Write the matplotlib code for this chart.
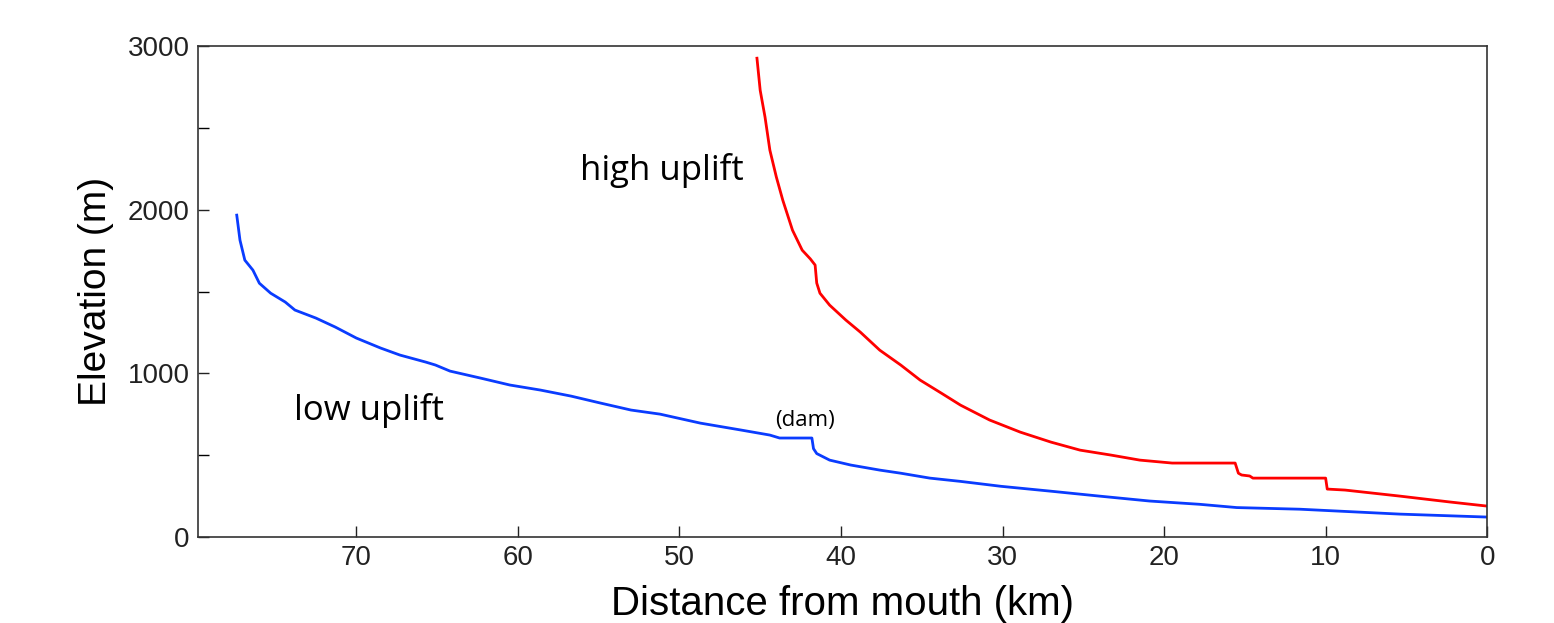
import matplotlib
matplotlib.use('Agg')
import matplotlib.pyplot as plt

# low uplift profile (distance from mouth km, elevation m)
low_km = [77.4, 77.2, 76.9, 76.4, 76.0, 75.3, 74.4, 73.8, 72.5, 71.3, 70.0, 68.5, 67.3,
          65.7, 65.1, 64.2, 62.3, 60.5, 58.6, 56.7, 54.9, 53.0, 51.2, 48.7, 46.2, 44.4,
          43.8, 41.8, 41.7, 41.5, 40.7, 39.4, 37.6, 36.3, 34.5, 32.6, 30.1, 27.0, 24.0,
          20.9, 17.8, 15.5, 11.6, 8.5, 5.4, 0.0]
low_elev = [1967, 1814, 1692, 1631, 1551, 1490, 1436, 1387, 1338, 1283, 1216, 1155, 1112,
            1069, 1051, 1014, 971, 929, 898, 861, 819, 776, 751, 696, 654, 623,
            605, 605, 540, 510, 470, 440, 409, 390, 360, 340, 310, 280, 250,
            220, 200, 180, 170, 155, 140, 122]

# high uplift profile
high_km = [45.2, 45.0, 44.7, 44.4, 44.0, 43.6, 43.0, 42.4, 41.9, 41.6, 41.5, 41.3, 40.7,
           39.7, 38.8, 37.6, 36.3, 35.1, 33.8, 32.6, 30.8, 28.9, 27.0, 25.2, 23.3, 21.5,
           19.5, 15.6, 15.4, 15.2, 14.7, 14.5, 10.0, 9.9, 8.8, 5.4, 2.3, 0.0]
high_elev = [2926, 2730, 2566, 2364, 2200, 2058, 1875, 1753, 1700, 1662, 1552, 1490, 1417,
             1326, 1252, 1142, 1051, 959, 880, 806, 715, 641, 580, 531, 501, 470,
             452, 452, 390, 379, 373, 360, 360, 293, 287, 250, 214, 189]

x_ticks = [70, 60, 50, 40, 30, 20, 10, 0]
y_ticks = [0, 1000, 2000, 3000]
y_minor = [500, 1500, 2500]

fig = plt.figure(figsize=(15.54, 6.23), dpi=100)
ax = fig.add_axes([0.1274, 0.138, 0.8296, 0.788])

ax.plot(low_km, low_elev, color='#0a3cff', lw=2)
ax.plot(high_km, high_elev, color='#ff0000', lw=2)

ax.set_xlim(79.8, 0)
ax.set_ylim(0, 3000)
ax.set_xticks(x_ticks)
ax.set_yticks(y_ticks)
ax.set_yticks(y_minor, minor=True)
ax.tick_params(direction='in', length=8, width=1, labelsize=20, colors='#222222', pad=6)
ax.tick_params(which='minor', direction='in', length=8, width=1)
for lab in ax.get_xticklabels() + ax.get_yticklabels():
    lab.set_fontfamily('Liberation Sans')
for s in ax.spines.values():
    s.set_color('#333333')
    s.set_linewidth(1.2)

ax.set_xlabel('Distance from mouth (km)', fontsize=29, family='Liberation Sans', labelpad=10)
ax.set_ylabel('Elevation (m)', fontsize=28, family='Liberation Sans', labelpad=10)

ax.text(51.1, 2240, 'high uplift', fontsize=25, family='Open Sans', ha='center', va='center')
ax.text(69.2, 776, 'low uplift', fontsize=25, family='Open Sans', ha='center', va='center')
ax.text(42.2, 715, '(dam)', fontsize=16, family='Open Sans', ha='center', va='center')

fig.savefig('out.png', dpi=100)
